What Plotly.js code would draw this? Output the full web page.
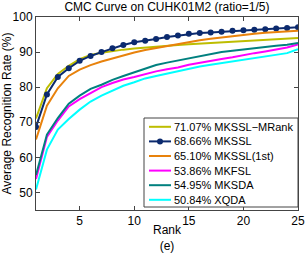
<!DOCTYPE html>
<html><head><meta charset="utf-8">
<script src="https://cdn.plot.ly/plotly-3.0.1.min.js"></script>
<style>body{margin:0;padding:0;background:#fff}#c{width:305px;height:253px}</style>
</head><body><div id="c"></div>
<script>
const ranks = [1,2,3,4,5,6,7,8,9,10,11,12,13,14,15,16,17,18,19,20,21,22,23,24,25];
const names = ["71.07% MKSSL\u2212MRank","68.66% MKSSL","65.10% MKSSL(1st)","53.86% MKFSL","54.95% MKSDA","50.84% XQDA"];
const mrank = [71.07,79.7,83.8,86.1,88.0,89.2,89.8,90.3,90.7,91.0,91.3,91.6,91.8,92.0,92.2,92.4,92.6,92.8,93.0,93.2,93.4,93.5,93.7,93.8,94.0];
const mkssl = [68.66,77.9,82.9,85.4,87.5,88.9,90.0,91.1,92.0,92.8,93.2,93.75,94.3,94.7,95.2,95.45,95.6,95.8,96.1,96.2,96.4,96.5,96.7,96.9,97.1];
const first = [65.10,74.7,79.7,83.2,85.0,86.3,87.3,88.2,89.0,89.9,90.6,91.2,91.8,92.4,92.9,93.4,93.8,94.2,94.6,94.9,95.2,95.5,95.7,95.9,96.1];
const mkfsl = [53.86,65.8,70.5,74.5,76.6,78.3,80.0,81.2,82.2,82.9,83.8,84.5,85.1,85.6,86.4,87.0,87.5,88.0,88.5,89.2,89.7,90.2,90.7,91.3,92.2];
const mksda = [54.95,66.5,71.2,75.3,77.6,79.5,80.7,82.1,83.2,84.3,85.4,86.3,87.0,87.6,88.3,88.9,89.5,90.0,90.4,90.8,91.1,91.4,91.8,92.1,92.6];
const xqda = [50.84,62.2,67.9,70.9,73.6,75.9,77.6,79.1,80.4,81.4,82.5,83.2,83.9,84.5,85.4,85.9,86.4,86.9,87.4,87.8,88.3,88.8,89.3,89.7,90.8];
const xTicks = [5,10,15,20,25];
const yTicks = [50,60,70,80,90,100];

const series = [mrank, mkssl, first, mkfsl, mksda, xqda];
const colors = ["#bdbd00","#0b2a6e","#e8820c","#ff00ff","#00807f","#00ffff"];
const traces = series.map((s,i)=>({
  x: ranks, y: s, name: names[i], type:'scatter',
  mode: i===1 ? 'lines+markers' : 'lines',
  line:{color:colors[i], width:2},
  marker:{size:6, color:colors[i]},
  showlegend:false
}));

// plot-area geometry (pixels)
const W=305, H=253, L=36, R=7, T=17, B=43;
const pw=W-L-R, ph=H-T-B;
const px = v => (v-L)/pw;
const py = v => (H-B-v)/ph;

const shapes = [{type:'rect', xref:'paper', yref:'paper', x0:px(144), x1:px(298), y0:py(207), y1:py(118), line:{color:'#444', width:1}, fillcolor:'#fff', layer:'above'}];
const annotations = [];
names.forEach((n,i)=>{
  const yy = py(126.8 + i*14.6);
  shapes.push({type:'line', xref:'paper', yref:'paper', x0:px(149), x1:px(171), y0:yy, y1:yy, line:{color:colors[i], width:2}, layer:'above'});
  if(i===1){
    shapes.push({type:'circle', xref:'paper', yref:'paper', xsizemode:'pixel', ysizemode:'pixel', xanchor:px(160), yanchor:yy, x0:-3, x1:3, y0:-3, y1:3, fillcolor:colors[i], line:{color:colors[i], width:0}, layer:'above'});
  }
  annotations.push({xref:'paper', yref:'paper', x:px(172), y:yy, xanchor:'left', yanchor:'middle', text:n, showarrow:false, font:{size:11, color:'#000'}});
});

const axisCommon = {showline:true, linecolor:'#444', linewidth:1, mirror:'ticks', ticks:'inside', ticklen:4, tickcolor:'#444', showgrid:false, zeroline:false, tickfont:{family:'Liberation Sans, Arial', size:12, color:'#000'}};
const layout = {
  width:W, height:H,
  margin:{l:L, r:R, t:T, b:B},
  paper_bgcolor:'#fff', plot_bgcolor:'#fff',
  font:{family:'Liberation Sans, Arial', color:'#000'},
  title:{text:'CMC Curve on CUHK01M2 (ratio=1/5)', font:{size:12}, x:167/305, xanchor:'center', y:1-7/253, yanchor:'middle', yref:'container', xref:'container'},
  xaxis:Object.assign({}, axisCommon, {range:[1,25], tickvals:xTicks, title:{text:'Rank<br>(e)', font:{size:12}, standoff:2}}),
  yaxis:Object.assign({}, axisCommon, {range:[45,100], tickvals:yTicks, title:{text:'Average Recognition Rate (%)', font:{size:12}, standoff:2}}),
  showlegend:false,
  shapes: shapes,
  annotations: annotations
};
Plotly.newPlot('c', traces, layout, {displayModeBar:false, staticPlot:true});
</script></body></html>
